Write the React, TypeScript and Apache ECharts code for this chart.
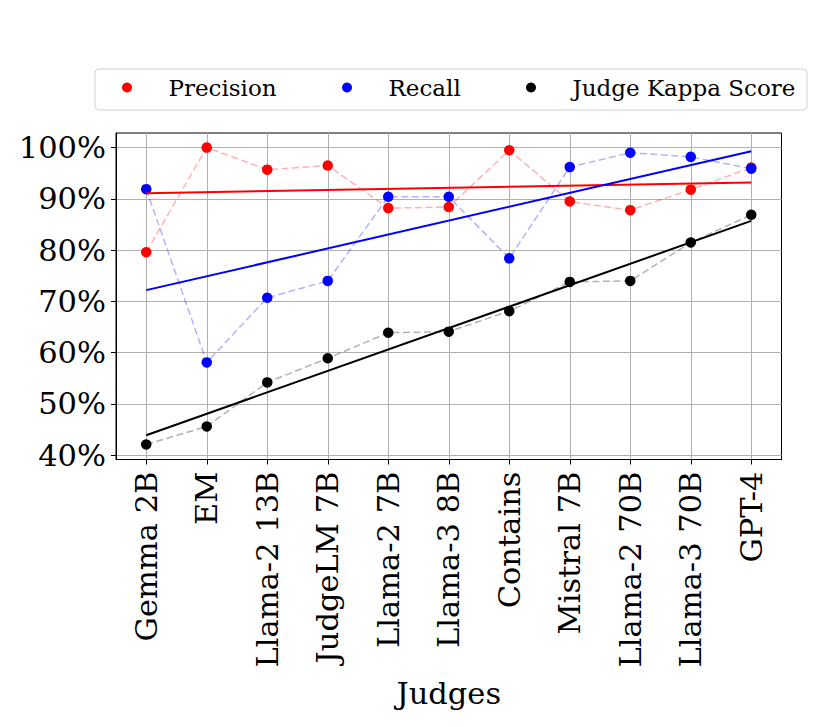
import React, { useEffect, useRef } from "react";
import * as echarts from "echarts";

const judges = [
  "Gemma 2B",
  "EM",
  "Llama-2 13B",
  "JudgeLM 7B",
  "Llama-2 7B",
  "Llama-3 8B",
  "Contains",
  "Mistral 7B",
  "Llama-2 70B",
  "Llama-3 70B",
  "GPT-4",
];
const precision = [79.6, 100.0, 95.7, 96.5, 88.2, 88.4, 99.5, 89.5, 87.8, 91.8, 96.1];
const recall = [91.9, 58.1, 70.7, 74.0, 90.4, 90.4, 78.4, 96.2, 99.0, 98.2, 95.9];
const kappa = [42.1, 45.6, 54.2, 58.9, 63.9, 64.1, 68.1, 73.8, 74.0, 81.5, 86.9];
// fitted trend lines: value at first judge, value at last judge
const precisionTrend = [91.1, 93.2];
const recallTrend = [72.2, 99.3];
const kappaTrend = [43.9, 85.7];
const yTicks = [40, 50, 60, 70, 80, 90, 100];
const legendNames = ["Precision", "Recall", "Judge Kappa Score"];

const FONT = "DejaVu Serif";

export default function App() {
  const ref = useRef<HTMLDivElement>(null);
  useEffect(() => {
    if (!ref.current) return;
    const chart = echarts.init(ref.current, undefined, { renderer: "svg" });
    const xIdx = judges.map((_, i) => i);
    const pts = (arr: number[]) => arr.map((v, i) => [i, v]);
    const trend = (t: number[]) => [
      [0, t[0]],
      [judges.length - 1, t[1]],
    ];
    const dashed = (name: string, arr: number[], color: string) => ({
      name,
      type: "line",
      data: pts(arr),
      symbol: "none",
      silent: true,
      z: 2,
      lineStyle: { color, width: 1.5, type: [7, 3.5] },
    });
    const dots = (name: string, arr: number[], color: string) => ({
      name,
      type: "scatter",
      data: pts(arr),
      symbol: "circle",
      symbolSize: 10.5,
      silent: true,
      z: 3,
      itemStyle: { color, opacity: 1 },
    });
    const fit = (name: string, t: number[], color: string) => ({
      name,
      type: "line",
      data: trend(t),
      symbol: "none",
      silent: true,
      z: 4,
      lineStyle: { color, width: 2, type: "solid" },
    });
    const legendLefts = [122, 342, 526];
    const legends = legendNames.map((n, i) => ({
      data: [n],
      left: legendLefts[i],
      top: 76,
      orient: "horizontal",
      selectedMode: false,
      itemWidth: 73,
      itemHeight: 10,
      padding: 0,
      z: 10,
      textStyle: { fontFamily: FONT, fontSize: 23, color: "#000" },
    }));
    chart.setOption({
      animation: false,
      backgroundColor: "#ffffff",
      textStyle: { fontFamily: FONT },
      legend: legends,
      graphic: [
        {
          type: "rect",
          z: 1,
          shape: { x: 95, y: 69, width: 712, height: 41, r: 4 },
          style: { fill: "#ffffff", stroke: "#d0d0d0", lineWidth: 1 },
          silent: true,
        },
      ],
      grid: {
        left: 116,
        top: 133,
        width: 665.5,
        height: 326.5,
        show: true,
        borderColor: "#000",
        borderWidth: 1,
        backgroundColor: "transparent",
        containLabel: false,
      },
      xAxis: {
        type: "value",
        min: -0.5,
        max: judges.length - 0.5,
        name: "Judges",
        nameLocation: "middle",
        nameGap: 218,
        nameTextStyle: { fontFamily: FONT, fontSize: 30.5, color: "#000" },
        axisLine: { show: true, onZero: false, lineStyle: { color: "#000", width: 1 } },
        axisTick: {
          show: true,
          length: 5,
          inside: false,
          customValues: xIdx,
          lineStyle: { color: "#000", width: 1 },
        },
        axisLabel: {
          customValues: xIdx,
          rotate: 90,
          margin: 12,
          fontFamily: FONT,
          fontSize: 30.5,
          color: "#000",
          formatter: (v: number) => judges[Math.round(v)] ?? "",
        },
        splitLine: { show: true, lineStyle: { color: "#b0b0b0", width: 1 } },
      },
      yAxis: {
        type: "value",
        min: 39.16,
        max: 102.85,
        axisLine: { show: true, onZero: false, lineStyle: { color: "#000", width: 1 } },
        axisTick: {
          show: true,
          length: 5,
          inside: false,
          customValues: yTicks,
          lineStyle: { color: "#000", width: 1 },
        },
        axisLabel: {
          customValues: yTicks,
          margin: 10,
          fontFamily: FONT,
          fontSize: 30.5,
          color: "#000",
          formatter: (v: number) => `${Math.round(v)}%`,
        },
        splitLine: { show: true, lineStyle: { color: "#b0b0b0", width: 1 } },
      },
      series: [
        dashed("Precision line", precision, "rgba(255,0,0,0.3)"),
        dashed("Recall line", recall, "rgba(0,0,255,0.3)"),
        dashed("Kappa line", kappa, "rgba(0,0,0,0.3)"),
        dots("Precision", precision, "#ff0000"),
        dots("Recall", recall, "#0000ff"),
        dots("Judge Kappa Score", kappa, "#000000"),
        fit("Precision trend", precisionTrend, "#ff0000"),
        fit("Recall trend", recallTrend, "#0000ff"),
        fit("Kappa trend", kappaTrend, "#000000"),
      ],
    });
    return () => chart.dispose();
  }, []);
  return (
    <div
      ref={ref}
      style={{ position: "absolute", left: 0, top: 0, width: 830, height: 727 }}
    />
  );
}
